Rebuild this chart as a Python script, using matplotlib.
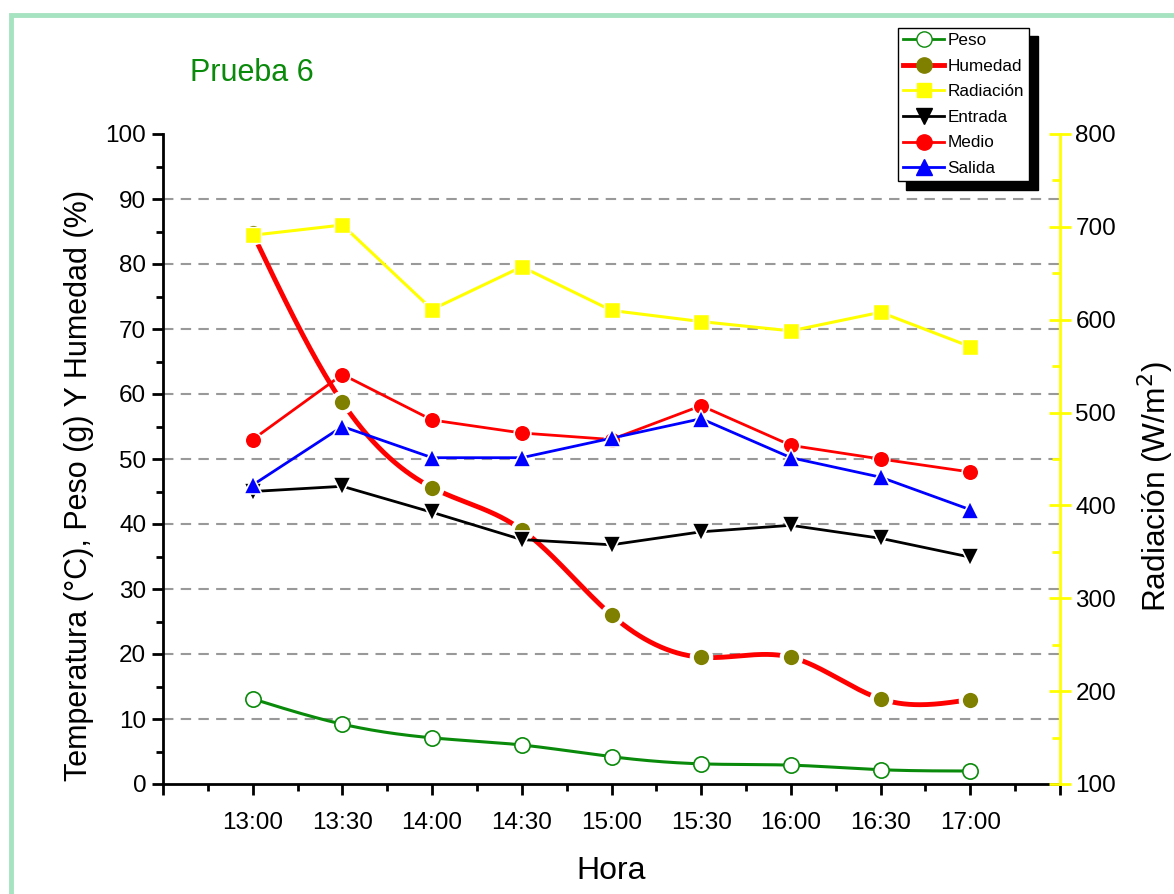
import numpy as np
import matplotlib
matplotlib.use("Agg")
import matplotlib.pyplot as plt
from matplotlib.lines import Line2D
from matplotlib.patches import Rectangle
from matplotlib.ticker import MultipleLocator, FixedLocator

plt.rcParams['font.family'] = ['Liberation Sans', 'DejaVu Sans']

horas = ["13:00", "13:30", "14:00", "14:30", "15:00", "15:30", "16:00", "16:30", "17:00"]
peso = [13.1, 9.2, 7.1, 6.0, 4.2, 3.1, 2.9, 2.2, 2.0]
humedad = [84.7, 58.7, 45.6, 39.1, 26.0, 19.5, 19.5, 13.1, 13.0]
radiacion = [691, 702, 611, 657, 610, 598, 588, 608, 571]
entrada = [45.0, 45.8, 41.8, 37.6, 36.8, 38.8, 39.8, 37.8, 34.9]
medio = [53.0, 63.0, 56.0, 54.0, 53.0, 58.2, 52.1, 50.0, 48.0]
salida = [46.0, 55.0, 50.2, 50.2, 53.2, 56.2, 50.2, 47.2, 42.2]


def natural_spline(x, y, xs):
    x = np.asarray(x, float); y = np.asarray(y, float)
    n = len(x); h = np.diff(x)
    A = np.zeros((n, n)); r = np.zeros(n)
    A[0, 0] = 1; A[-1, -1] = 1
    for i in range(1, n - 1):
        A[i, i - 1] = h[i - 1]; A[i, i] = 2 * (h[i - 1] + h[i]); A[i, i + 1] = h[i]
        r[i] = 6 * ((y[i + 1] - y[i]) / h[i] - (y[i] - y[i - 1]) / h[i - 1])
    M = np.linalg.solve(A, r)
    idx = np.clip(np.searchsorted(x, xs) - 1, 0, n - 2)
    x0 = x[idx]; x1 = x[idx + 1]; hh = x1 - x0
    t0 = x1 - xs; t1 = xs - x0
    return (M[idx] * t0 ** 3 / (6 * hh) + M[idx + 1] * t1 ** 3 / (6 * hh)
            + (y[idx] / hh - M[idx] * hh / 6) * t0 + (y[idx + 1] / hh - M[idx + 1] * hh / 6) * t1)


W, H = 1174, 894
fig = plt.figure(figsize=(W / 100, H / 100), dpi=100)

# light green frame
fig.patches.append(Rectangle((11 / W, -0.05), 1.2, 1 - 15 / H + 0.05, transform=fig.transFigure,
                             fill=False, edgecolor='#a6e3c1', linewidth=3.5, zorder=0))

ax = fig.add_axes([163 / W, 1 - 784 / H, (1060 - 163) / W, (784 - 134) / H])
ax2 = ax.twinx()

x = np.arange(len(horas))
xs = np.linspace(0, len(horas) - 1, 400)

ax.set_ylim(0, 100)
ax.set_xlim(-1, len(horas))
ax.yaxis.set_major_locator(MultipleLocator(10))
ax.yaxis.set_minor_locator(MultipleLocator(5))
for v in range(10, 100, 10):
    ax.axhline(v, color='#999999', linestyle=(0, (5, 3.5)), linewidth=1.5, zorder=0)

# Peso
ax.plot(xs, natural_spline(x, peso, xs), color='#0a8a0a', linewidth=2.2, zorder=2)
ax.plot(x, peso, linestyle='none', marker='o', markersize=11, markerfacecolor='white',
        markeredgecolor='#0a8a0a', markeredgewidth=1.2, zorder=3)
# Humedad
ax.plot(xs, natural_spline(x, humedad, xs), color='#ff0000', linewidth=3.5, zorder=2)
ax.plot(x, humedad, linestyle='none', marker='o', markersize=14, markerfacecolor='#808000',
        markeredgecolor='white', markeredgewidth=3, zorder=3)
# temperatures
ax.plot(x, entrada, color='black', linewidth=2, marker='v', markersize=13,
        markeredgecolor='white', markeredgewidth=1.2, zorder=4)
ax.plot(x, medio, color='#ff0000', linewidth=2, marker='o', markersize=12,
        markeredgecolor='white', markeredgewidth=1.2, zorder=4)
ax.plot(x, salida, color='#0000ff', linewidth=2, marker='^', markersize=13,
        markeredgecolor='white', markeredgewidth=1.2, zorder=5)

# Radiacion
ax2.plot(x, radiacion, color='#ffff00', linewidth=2.2, marker='s', markersize=11,
         markeredgecolor='white', markeredgewidth=1.0, zorder=5)
ax2.set_ylim(100, 800)
ax2.yaxis.set_major_locator(MultipleLocator(100))
ax2.yaxis.set_minor_locator(MultipleLocator(50))

ax.set_xticks(np.arange(-1, len(horas) + 1))
ax.set_xticklabels([''] + horas + [''])
ax.xaxis.set_minor_locator(FixedLocator(np.arange(-0.5, len(horas), 1.0)))
for a in (ax, ax2):
    a.spines['top'].set_visible(False)
ax.spines['right'].set_visible(False)
ax2.spines['left'].set_visible(False)
ax2.spines['bottom'].set_visible(False)
ax.spines['left'].set_linewidth(2)
ax.spines['bottom'].set_linewidth(2)
ax2.spines['right'].set_color('#ffff00')
ax2.spines['right'].set_linewidth(2)

ax.tick_params(axis='both', which='major', direction='out', length=8, width=2,
               labelsize=17.5, pad=4)
ax.tick_params(axis='both', which='minor', direction='out', length=5, width=2)
ax.tick_params(axis='x', which='major', pad=12)
ax2.tick_params(axis='y', which='major', direction='inout', length=16, width=2,
                color='#ffff00', labelsize=17.5, pad=3)
ax2.tick_params(axis='y', which='minor', direction='in', length=6, width=2, color='#ffff00')

ax.set_ylabel('Temperatura (°C), Peso (g) Y Humedad (%)', fontsize=22, labelpad=8, y=0.46)
ax.set_xlabel('Hora', fontsize=23, labelpad=16)
ax2.set_ylabel('Radiación (W/m$^2$)', fontsize=22.8, labelpad=14, y=0.457)

fig.text(190 / W, 1 - 73 / H, 'Prueba 6', color='#0a8a0a', fontsize=22, va='center', ha='left')

handles = [
    Line2D([], [], color='#0a8a0a', lw=2, marker='o', markersize=11, markerfacecolor='white',
           markeredgecolor='#0a8a0a'),
    Line2D([], [], color='#ff0000', lw=3.5, marker='o', markersize=11, markerfacecolor='#808000',
           markeredgecolor='#808000'),
    Line2D([], [], color='#ffff00', lw=2, marker='s', markersize=10, markeredgecolor='#ffff00'),
    Line2D([], [], color='black', lw=2, marker='v', markersize=11),
    Line2D([], [], color='#ff0000', lw=2, marker='o', markersize=11),
    Line2D([], [], color='#0000ff', lw=2, marker='^', markersize=11),
]
labels = ['Peso', 'Humedad', 'Radiación', 'Entrada', 'Medio', 'Salida']
leg = ax2.legend(handles, labels, loc='upper left', bbox_to_anchor=(898 / W, 1 - 28 / H),
                 bbox_transform=fig.transFigure, fontsize=12.3, frameon=True, fancybox=False,
                 edgecolor='black', framealpha=1, handlelength=2.4, handletextpad=0.2,
                 labelspacing=0.62, borderpad=0.3, borderaxespad=0,
                 shadow={'ox': 6, 'oy': -6, 'color': 'black', 'alpha': 1})
leg.get_frame().set_linewidth(1.0)
leg.set_zorder(10)

fig.savefig('out.png', dpi=100)
